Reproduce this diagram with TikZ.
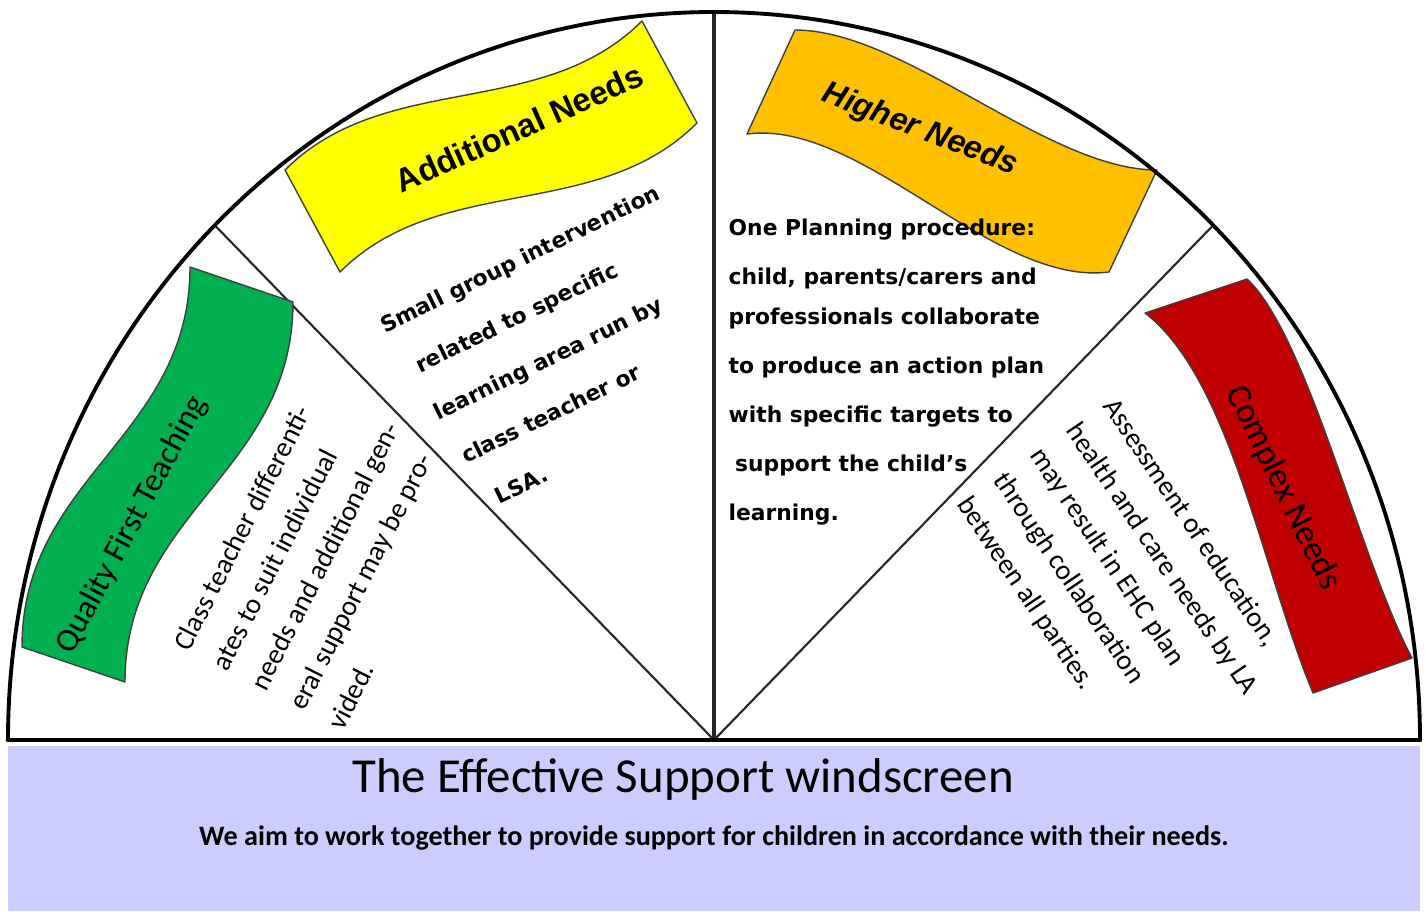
\documentclass[tikz,border=0pt]{standalone}
\usepackage{fontspec}
\setmainfont{Carlito}
\newfontfamily\wideface{DejaVu Sans}
\newfontfamily\headface{Liberation Sans}
\usepackage{xcolor}
\usetikzlibrary{calc}

\definecolor{qftgreen}{RGB}{0,176,80}
\definecolor{anyellow}{RGB}{255,255,0}
\definecolor{hnorange}{RGB}{255,192,0}
\definecolor{cnred}{RGB}{192,0,0}
\definecolor{panelblue}{RGB}{204,204,255}

\begin{document}
\begin{tikzpicture}[x=0.01cm, y=-0.01cm, line cap=round, line join=round,
    banner/.style={draw=black!75, line width=0.4pt},
    divider/.style={draw=black!85, line width=0.6pt},
    plaintext/.style={inner sep=0pt, align=left, anchor=base west, font=\fontsize{8}{12.3}\selectfont},
    widetext/.style={inner sep=0pt, align=left, anchor=base west, font=\wideface\bfseries\fontsize{6.2}{13.9}\selectfont},
    headline/.style={inner sep=0pt, font=\fontsize{9.4}{11}\selectfont}]
    \fill[white] (0,0) rectangle (1426,911);
    \useasboundingbox (0,0) rectangle (1426,911);

    % Points of the windscreen
    \coordinate (ctr) at (714,740);
    \coordinate (lft) at (8,740);
    \coordinate (rgt) at (1420,740);
    \coordinate (qftedge) at ($(ctr)+(225:706 and 728)$);
    \coordinate (top) at ($(ctr)+(270:706 and 728)$);
    \coordinate (cnedge) at ($(ctr)+(315:706 and 728)$);

    % Panel
    \fill[panelblue] (8,746) rectangle (1420,911);

    % Dividers
    \draw[divider] (ctr) -- (qftedge);
    \draw[divider, line width=0.9pt] (ctr) -- (top);
    \draw[divider] (ctr) -- (cnedge);

    % Banners
    \filldraw[banner, fill=qftgreen] (22,647) .. controls (22,477) and (190,437) .. (190,267)
      -- (293,302) .. controls (293,472) and (125,512) .. (125,682) -- cycle;
    \filldraw[banner, fill=anyellow] (285,170) .. controls (385,70) and (542,121) .. (642,21)
      -- (697,123) .. controls (597,223) and (440,172) .. (340,272) -- cycle;
    \filldraw[banner, fill=hnorange] (795,30) .. controls (905,30) and (1047,170) .. (1157,170)
      -- (1109,272) .. controls (994,287) and (862,119) .. (747,134) -- cycle;
    \filldraw[banner, fill=cnred] (1145,313) .. controls (1230,378) and (1263,573) .. (1313,693)
      -- (1412,658) .. controls (1360,560) and (1307,334) .. (1247,279) -- cycle;

    % Banner titles
    \node[headline, rotate=62] (qfthead) at (132,525) {Quality First Teaching};
    \node[headline, rotate=24, font=\headface\bfseries\fontsize{9.3}{11}\selectfont] (anhead) at (519,128) {Additional Needs};
    \node[headline, rotate=-21, font=\headface\bfseries\itshape\fontsize{9.1}{11}\selectfont] (hnhead) at (920,130) {Higher Needs};
    \node[headline, rotate=-64, font=\fontsize{10}{12}\selectfont] (cnhead) at (1283,488) {Complex Needs};

    % Texts (anchored at the start of their last line)
    \node[plaintext, rotate=63] (qfttext) at (343,732) {Class teacher differenti-\\ates to suit individual\\needs and additional gen-\\eral support may be pro-\\vided.};
    \node[widetext, rotate=26, font=\wideface\bfseries\fontsize{6.2}{14.5}\selectfont] (antext) at (474,517) {Small group intervention\\\hspace*{4pt}related to specific\\\hspace*{2.8pt}learning area run by\\\hspace*{4.5pt}class teacher or\\\hspace*{8pt}LSA.};
    \node[widetext] (hntext) at (728,520) {One Planning procedure:\\child, parents/carers and\\[-2.6pt]professionals collaborate\\to produce an action plan\\with specific targets to\\\hspace*{0.3em}support the child’s\\learning.};
    \node[plaintext, rotate=-56, font=\fontsize{8}{12.5}\selectfont] (cntext) at (956,504) {Assessment of education,\\health and care needs by LA\\may result in EHC plan\\through collaboration\\between all parties.};

    % Windscreen outline
    \draw[line width=1.1pt] (lft) arc[start angle=180, end angle=360, x radius=706, y radius=728];
    \draw[line width=1.3pt] (lft) -- (rgt);

    % Caption
    \node[anchor=base, inner sep=0pt, font=\fontsize{13.9}{16}\selectfont] (title) at (683,792) {The Effective Support windscreen};
    \node[anchor=base, inner sep=0pt, font=\bfseries\fontsize{8}{9}\selectfont] (motto) at (714,845) {We aim to work together to provide support for children in accordance with their needs.};
  \end{tikzpicture}
\end{document}
